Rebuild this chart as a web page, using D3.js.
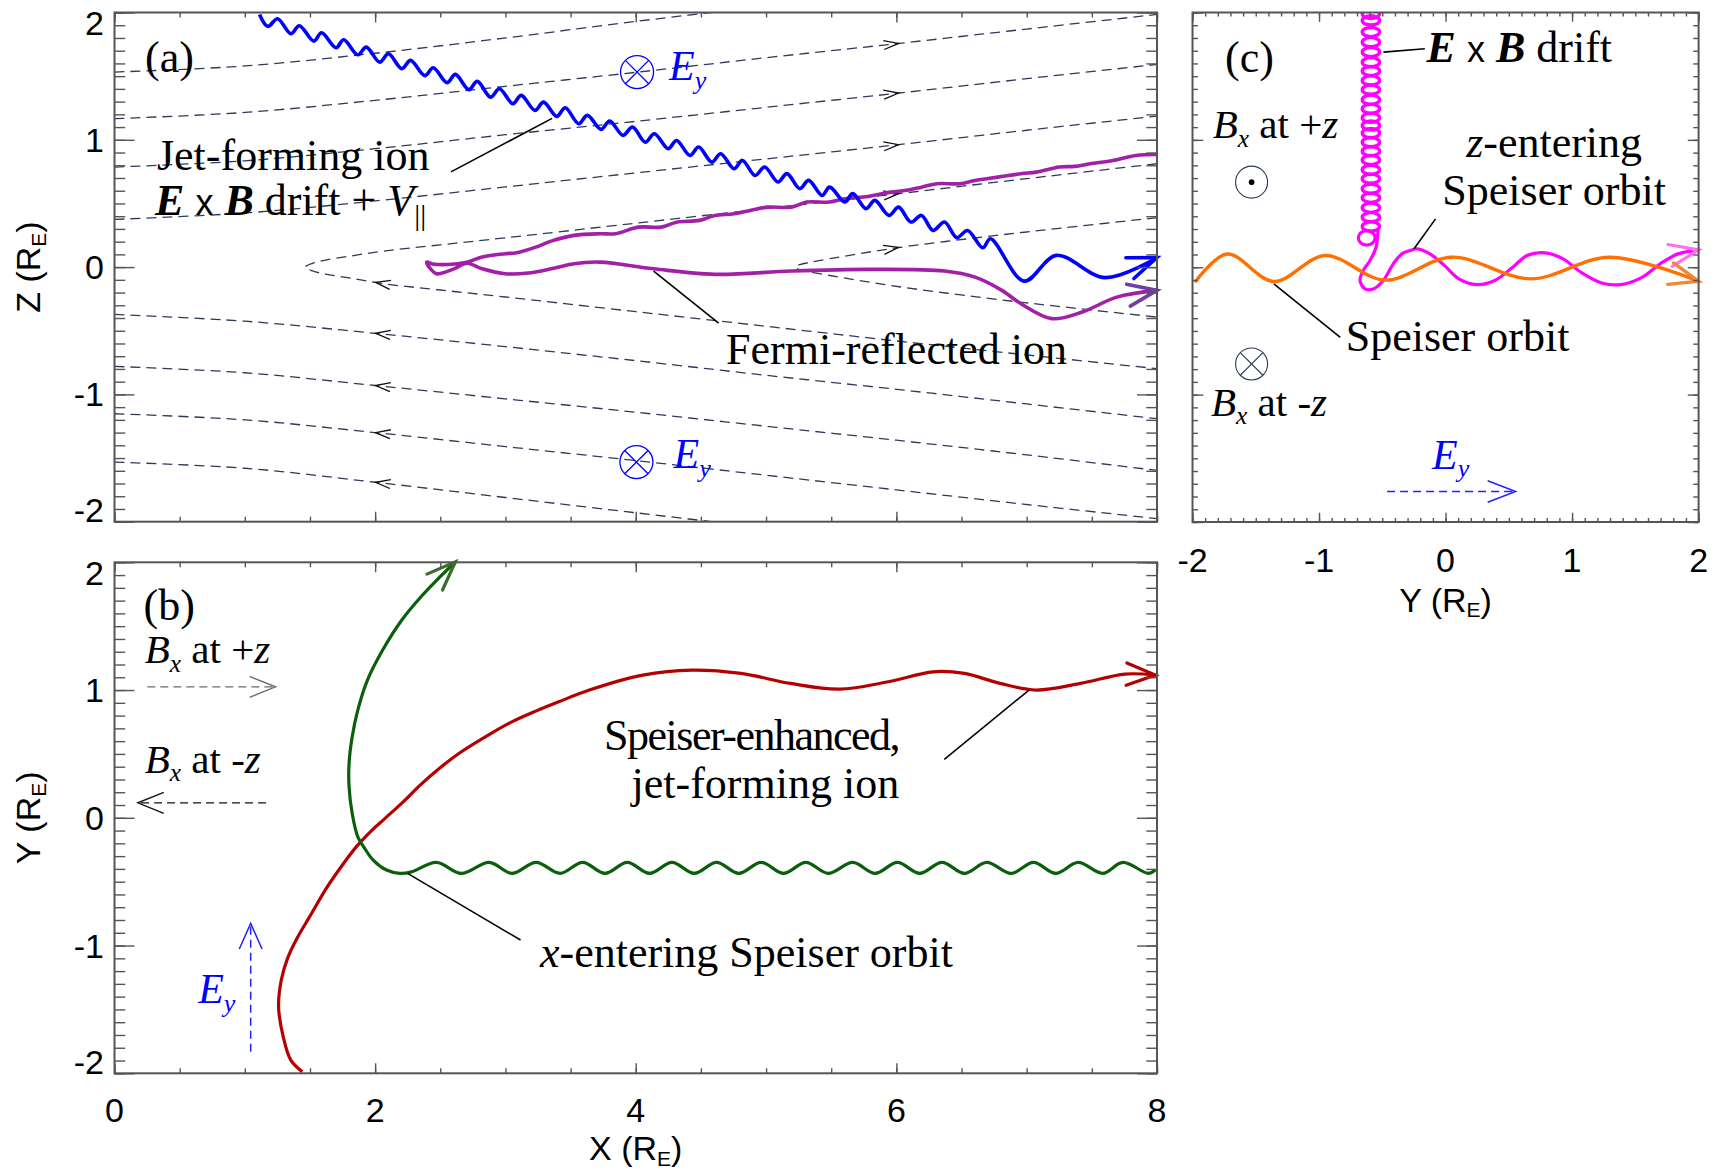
<!DOCTYPE html>
<html>
<head>
<meta charset="utf-8">
<title>Ion orbits in the magnetotail current sheet</title>
<script src="https://cdn.jsdelivr.net/npm/d3@7"></script>
<style>
  html,body{margin:0;padding:0;background:#fff;}
  svg{display:block;}
  text{white-space:pre;}
</style>
</head>
<body>
<svg id="fig" width="1713" height="1172" xmlns="http://www.w3.org/2000/svg"></svg>
<script>
// ---------------- axis ticks ----------------
const xTicksMajor = [0, 2, 4, 6, 8];
const xTicksMinor = [0,0.5,1,1.5,2,2.5,3,3.5,4,4.5,5,5.5,6,6.5,7,7.5,8];
const zTicksMajor = [-2, -1, 0, 1, 2];
const tenthTicks = d3.range(-20, 21).map(k => k / 10);

// ---------------- panel (a): X-Z plane ----------------
// jet-forming ion: E x B drift + parallel motion (gyration turning points)
const blueJet = [
  [1.113,1.985],[1.177,1.891],[1.251,1.951],[1.354,1.833],[1.418,1.896],[1.530,1.775],[1.589,1.841],
  [1.700,1.723],[1.759,1.786],[1.867,1.668],[1.932,1.728],[2.035,1.610],[2.102,1.676],[2.205,1.559],
  [2.272,1.624],[2.381,1.504],[2.446,1.566],[2.552,1.449],[2.616,1.514],[2.719,1.394],[2.784,1.459],
  [2.886,1.335],[2.954,1.401],[3.057,1.284],[3.121,1.349],[3.227,1.231],[3.292,1.296],[3.394,1.184],
  [3.459,1.252],[3.562,1.126],[3.629,1.192],[3.733,1.082],[3.800,1.147],[3.902,1.035],[3.975,1.100],
  [4.073,0.982],[4.143,1.048],[4.249,0.930],[4.313,0.995],[4.416,0.877],[4.483,0.943],[4.583,0.825],
  [4.652,0.891],[4.754,0.773],[4.819,0.838],[4.916,0.720],[4.989,0.786],[5.092,0.668],[5.160,0.734],
  [5.259,0.616],[5.327,0.681],[5.430,0.563],[5.488,0.628],[5.605,0.511],[5.665,0.577],[5.767,0.459],
  [5.835,0.524],[5.943,0.406],[6.017,0.471],[6.111,0.354],[6.193,0.406],[6.281,0.288],[6.369,0.354],
  [6.464,0.231],[6.546,0.288],[6.663,0.152],[6.722,0.223],[6.980,-0.110],[7.227,0.092],[7.603,-0.083],
  [7.999,0.074]
];
// Fermi-reflected ion: inbound along the upper field line, reflected near X~2.4
const magentaFermi = [
  [8.000,0.885],[7.838,0.877],[7.661,0.838],[7.486,0.812],[7.368,0.791],[7.250,0.786],[7.074,0.746],
  [6.957,0.734],[6.780,0.707],[6.604,0.681],[6.487,0.655],[6.311,0.655],[6.193,0.628],[6.076,0.603],
  [5.959,0.589],[5.782,0.555],[5.605,0.537],[5.488,0.511],[5.312,0.511],[5.195,0.471],[5.018,0.471],
  [4.901,0.451],[4.754,0.419],[4.607,0.406],[4.490,0.367],[4.313,0.353],[4.196,0.314],[4.020,0.314],
  [3.843,0.262],[3.726,0.262],[3.526,0.249],[3.351,0.204],[3.233,0.157],[3.086,0.113],[2.998,0.105],
  [2.822,0.079],[2.704,0.039],[2.560,0.020],[2.440,0.025],[2.396,0.039],
  [2.430,-0.020],[2.470,-0.052],[2.520,-0.045],[2.613,-0.010],[2.705,0.030],[2.822,-0.013],
  [2.998,-0.052],[3.174,-0.047],[3.351,-0.013],[3.526,0.027],[3.726,0.039],[4.137,-0.013],
  [4.607,-0.057],[5.195,-0.031],[5.782,-0.018],[6.369,-0.031],[6.604,-0.079],[6.810,-0.183],
  [6.957,-0.288],[7.192,-0.405],[7.427,-0.353],[7.691,-0.236],[8.000,-0.183]
];
// magnetic field lines (upper half: Bx toward +X, lower half: toward -X)
const fieldA  = [[0,1.532],[1,1.58],[2,1.68],[3,1.80],[4,1.93],[5,2.05]];
const fieldB  = [[0,1.166],[1,1.215],[2,1.31],[3,1.42],[4,1.53],[5,1.645],[6,1.755],[7,1.87],[8,1.985]];
const fieldC  = [[0,0.786],[1,0.835],[2,0.93],[3,1.04],[4,1.145],[5,1.255],[6,1.365],[7,1.48],[8,1.592]];
const fieldD  = [[0,0.375],[1,0.425],[2,0.52],[3,0.63],[4,0.74],[5,0.85],[6,0.96],[7,1.075],[8,1.186]];
const fieldE  = [[1.464,0],[1.52,0.03],[1.62,0.055],[1.8,0.085],[2.06,0.125],[2.5,0.175],[3,0.23],[4,0.345],[5,0.46],[6,0.575],[7,0.695],[8,0.812]];
const fieldF  = [[5.224,0],[5.26,0.02],[5.32,0.034],[5.49,0.066],[5.96,0.145],[6.66,0.236],[7.3,0.31],[8,0.388]];
const fieldA2 = [[0,-1.532],[1,-1.58],[2,-1.69],[3,-1.81],[4,-1.93],[5,-2.05]];
const fieldB2 = [[0,-1.152],[1,-1.2],[2,-1.30],[3,-1.41],[4,-1.52],[5,-1.635],[6,-1.75],[7,-1.865],[8,-1.976]];
const fieldC2 = [[0,-0.780],[1,-0.83],[2,-0.93],[3,-1.035],[4,-1.14],[5,-1.25],[6,-1.36],[7,-1.475],[8,-1.597]];
const fieldD2 = [[0,-0.372],[1,-0.425],[2,-0.52],[3,-0.625],[4,-0.735],[5,-0.85],[6,-0.96],[7,-1.075],[8,-1.191]];
const fieldE2 = [[1.464,0],[1.52,-0.03],[1.62,-0.055],[1.8,-0.085],[2.06,-0.13],[2.5,-0.18],[3,-0.235],[4,-0.35],[5,-0.465],[6,-0.58],[7,-0.69],[8,-0.798]];
const fieldF2 = [[5.224,0],[5.26,-0.02],[5.32,-0.035],[5.49,-0.066],[5.96,-0.145],[6.66,-0.24],[7.3,-0.315],[8,-0.393]];
const fieldArrowXUpper = 5.96;   // direction chevrons on the upper lines
const fieldArrowXLower = 2.06;   // direction chevrons on the lower lines

// ---------------- panel (b): X-Y plane ----------------
const redSpeiser = [
  [1.441,-1.988],[1.353,-1.897],[1.295,-1.714],[1.259,-1.479],[1.280,-1.270],[1.330,-1.095],[1.405,-0.935],
  [1.500,-0.770],[1.630,-0.545],[1.745,-0.375],[1.860,-0.222],[1.975,-0.098],[2.070,-0.010],[2.205,0.115],
  [2.352,0.262],[2.499,0.392],[2.645,0.505],[2.881,0.655],[3.057,0.755],[3.233,0.835],[3.409,0.908],
  [3.644,1.000],[4.054,1.117],[4.432,1.156],[4.808,1.130],[5.186,1.052],[5.562,1.007],[5.939,1.065],
  [6.282,1.143],[6.522,1.130],[6.796,1.052],[7.070,1.000],[7.412,1.052],[7.755,1.125],[7.988,1.117]
];
const greenSpeiser = [
  [7.988,-0.409],[7.933,-0.435],[7.738,-0.349],[7.583,-0.435],[7.395,-0.349],[7.223,-0.435],[7.052,-0.349],
  [6.881,-0.435],[6.693,-0.349],[6.522,-0.435],[6.350,-0.349],[6.179,-0.435],[6.008,-0.349],[5.837,-0.435],
  [5.665,-0.349],[5.477,-0.435],[5.305,-0.349],[5.134,-0.435],[4.962,-0.349],[4.791,-0.435],[4.620,-0.349],
  [4.449,-0.435],[4.278,-0.349],[4.106,-0.435],[3.935,-0.349],[3.764,-0.435],[3.592,-0.349],[3.420,-0.435],
  [3.235,-0.349],[3.051,-0.435],[2.875,-0.349],[2.661,-0.435],[2.470,-0.349],[2.279,-0.423],[2.190,-0.435],
  [2.087,-0.409],[1.985,-0.331],[1.912,-0.227],[1.867,-0.149],[1.824,0.034],[1.800,0.243],[1.800,0.426],
  [1.824,0.634],[1.867,0.843],[1.941,1.078],[2.058,1.313],[2.205,1.548],[2.352,1.730],[2.499,1.887],
  [2.616,2.004]
];

// ---------------- panel (c): Y-Z plane ----------------
const orangeSpeiser = [
  [-1.981,-0.118],[-1.726,0.104],[-1.357,-0.112],[-0.953,0.092],[-0.478,-0.101],
  [0.048,0.079],[0.673,-0.091],[1.297,0.079],[2.000,-0.110]
];
const gyroLoopY = -0.590;              // Y of the E x B drifting gyro-loops
const gyroLoopZ = [1.99,1.938,1.846,1.767,1.689,1.610,1.540,1.467,1.394,1.315,1.244,1.174,1.113,
                   1.053,0.982,0.911,0.842,0.765,0.695,0.616,0.545,0.467,0.393,0.320];
const gyroLastLoop = [-0.623, 0.231];
const magentaZEntering = [
  [-0.534,0.304],[-0.549,0.157],[-0.597,0.053],[-0.650,-0.026],[-0.676,-0.104],[-0.636,-0.170],
  [-0.571,-0.170],[-0.492,-0.104],[-0.413,0.027],[-0.346,0.105],[-0.281,0.131],[-0.221,0.145],
  [-0.123,0.105],[-0.008,0.013],[0.105,-0.091],[0.247,-0.136],[0.389,-0.104],[0.531,0.000],
  [0.644,0.092],[0.787,0.113],[0.929,0.066],[1.070,-0.039],[1.241,-0.126],[1.383,-0.136],
  [1.553,-0.079],[1.696,0.027],[1.837,0.105],[2.000,0.137]
];

// ================= drawing =================
const serif = "'Liberation Serif','Times New Roman',Times,serif";
const sans  = "'Liberation Sans',Arial,Helvetica,sans-serif";
const frameCol = "#555555";
const fieldCol = "#2d3b58";
const C = {
  blue: "#0000ff", magA: "#a21fa8", purpleHead: "#7040a0",
  red: "#b40000", green: "#0b5e0b", greenHead: "#3d6b2d",
  mag: "#ff00ff", magHead: "#ff6ff0", orange: "#ff7000", orangeHead: "#f0883c"
};
const fmtTick = v => v < 0 ? "-" + Math.abs(v) : String(v);

const svg = d3.select("#fig");
svg.append("rect").attr("width", 1713).attr("height", 1172).attr("fill", "#fff");

const xA = d3.scaleLinear([0, 8], [114.5, 1157]);
const zA = d3.scaleLinear([-2, 2], [521.7, 12.5]);
const xB = d3.scaleLinear([0, 8], [114.5, 1157]);
const yB = d3.scaleLinear([-2, 2], [1073.3, 562.3]);
const yC = d3.scaleLinear([-2, 2], [1192.5, 1698.6]);
const zC = d3.scaleLinear([-2, 2], [522, 12.5]);

const defs = svg.append("defs");
function clipFor(id, xs, ys) {
  const [x0, x1] = xs.range(), [y0, y1] = ys.range();
  defs.append("clipPath").attr("id", id).append("rect")
    .attr("x", x0).attr("y", y1).attr("width", x1 - x0).attr("height", y0 - y1);
  return `url(#${id})`;
}

function curveLine(xs, ys) {
  return d3.line().x(d => xs(d[0])).y(d => ys(d[1])).curve(d3.curveCatmullRom.alpha(0.5));
}

function arrowHead(g, xs, ys, pts, color, width, len = 31, half = 21) {
  const a = pts[pts.length - 2], b = pts[pts.length - 1];
  const tx = xs(b[0]), ty = ys(b[1]);
  const ang = Math.atan2(ty - ys(a[1]), tx - xs(a[0]));
  const h = half * Math.PI / 180;
  const p1 = [tx - len * Math.cos(ang - h), ty - len * Math.sin(ang - h)];
  const p2 = [tx - len * Math.cos(ang + h), ty - len * Math.sin(ang + h)];
  g.append("path").attr("d", `M${p1}L${tx},${ty}L${p2}`)
    .attr("fill", "none").attr("stroke", color).attr("stroke-width", width)
    .attr("stroke-linecap", "round").attr("stroke-linejoin", "miter");
}

function straightArrow(g, p0, p1, color, dash, len = 28, half = 22, width = 1.4) {
  g.append("line").attr("x1", p0[0]).attr("y1", p0[1]).attr("x2", p1[0]).attr("y2", p1[1])
    .attr("stroke", color).attr("stroke-width", width).attr("stroke-dasharray", dash);
  const ang = Math.atan2(p1[1] - p0[1], p1[0] - p0[0]), h = half * Math.PI / 180;
  const q1 = [p1[0] - len * Math.cos(ang - h), p1[1] - len * Math.sin(ang - h)];
  const q2 = [p1[0] - len * Math.cos(ang + h), p1[1] - len * Math.sin(ang + h)];
  g.append("path").attr("d", `M${q1}L${p1}L${q2}`).attr("fill", "none")
    .attr("stroke", color).attr("stroke-width", width);
}

function rich(g, x, y, parts, o = {}) {
  const size = o.size || 44;
  const t = g.append("text").attr("x", x).attr("y", y)
    .attr("font-family", serif).attr("font-size", size)
    .attr("fill", o.color || "#000").attr("text-anchor", o.anchor || "start");
  if (o.spacing) t.attr("letter-spacing", o.spacing);
  let cur = 0;
  for (const p of parts) {
    const s = t.append("tspan").text(p.t);
    if (p.i) s.attr("font-style", "italic");
    if (p.b) s.attr("font-weight", "bold");
    if (p.sans) s.attr("font-family", sans).attr("font-size", p.fs || size * 0.8);
    if (p.sub) s.attr("font-size", p.fs || size * 0.62);
    else if (p.fs) s.attr("font-size", p.fs);
    const want = p.sub ? (p.shift ?? size * 0.2) : 0;
    if (want !== cur) { s.attr("dy", want - cur); cur = want; }
  }
  return t;
}

function leader(g, p0, p1) {
  g.append("line").attr("x1", p0[0]).attr("y1", p0[1]).attr("x2", p1[0]).attr("y2", p1[1])
    .attr("stroke", "#000").attr("stroke-width", 1.6);
}

function circledCross(g, cx, cy, r, color, w) {
  g.append("circle").attr("cx", cx).attr("cy", cy).attr("r", r)
    .attr("fill", "none").attr("stroke", color).attr("stroke-width", w);
  const d = r * Math.SQRT1_2;
  g.append("path").attr("d", `M${cx - d},${cy - d}L${cx + d},${cy + d}M${cx - d},${cy + d}L${cx + d},${cy - d}`)
    .attr("stroke", color).attr("stroke-width", w);
}
function circledDot(g, cx, cy, r, color, w) {
  g.append("circle").attr("cx", cx).attr("cy", cy).attr("r", r)
    .attr("fill", "none").attr("stroke", color).attr("stroke-width", w);
  g.append("circle").attr("cx", cx).attr("cy", cy).attr("r", 2.8).attr("fill", "#000");
}

function panelAxes(g, xs, ys, o) {
  const [xl, xr] = xs.range();
  const [yb, yt] = ys.range();
  const tick = (axis, scale, vals, len, tx, ty) => {
    const a = g.append("g").attr("transform", `translate(${tx},${ty})`)
      .call(axis(scale).tickValues(vals).tickSize(-len).tickFormat(() => ""));
    a.select(".domain").remove();
    a.selectAll("text").remove();
    a.selectAll(".tick line").attr("stroke", frameCol).attr("stroke-width", 1.4);
  };
  tick(d3.axisBottom, xs, o.xMinor, o.xMinorLen, 0, yb);
  tick(d3.axisBottom, xs, o.xMajor, o.xMajorLen, 0, yb);
  tick(d3.axisTop, xs, o.xMinor, o.xMinorLen, 0, yt);
  tick(d3.axisTop, xs, o.xMajor, o.xMajorLen, 0, yt);
  tick(d3.axisLeft, ys, o.yMinor, o.yMinorLen, xl, 0);
  tick(d3.axisLeft, ys, o.yMajor, o.yMajorLen, xl, 0);
  tick(d3.axisRight, ys, o.yMinor, o.yMinorLen, xr, 0);
  tick(d3.axisRight, ys, o.yMajor, o.yMajorLen, xr, 0);
  g.append("rect").attr("x", xl).attr("y", yt).attr("width", xr - xl).attr("height", yb - yt)
    .attr("fill", "none").attr("stroke", frameCol).attr("stroke-width", 2);
  if (o.xLabels) {
    o.xMajor.forEach(v => g.append("text").attr("x", xs(v)).attr("y", yb + o.xLabelDy)
      .attr("text-anchor", "middle").attr("font-family", sans).attr("font-size", 34)
      .attr("fill", "#000").text(fmtTick(v)));
  }
  if (o.yLabels) {
    const lo = d3.min(o.yMajor), hi = d3.max(o.yMajor);
    o.yMajor.forEach(v => {
      const dy = v === hi ? 22.5 : v === lo ? 0.5 : 12;
      g.append("text").attr("x", xl - 10.5).attr("y", ys(v) + dy)
        .attr("text-anchor", "end").attr("font-family", sans).attr("font-size", 34)
        .attr("fill", "#000").text(fmtTick(v));
    });
  }
}

function axisTitle(g, x, y, main, rotate) {
  const t = g.append("text").attr("font-family", sans).attr("font-size", 34).attr("fill", "#000")
    .attr("text-anchor", "middle")
    .attr("transform", `translate(${x},${y})` + (rotate ? " rotate(-90)" : ""));
  t.append("tspan").text(main + " (R");
  t.append("tspan").text("E").attr("font-size", 21).attr("dy", 5.5);
  t.append("tspan").text(")").attr("dy", -5.5);
}

// ---------- panel (a) ----------
const gA = svg.append("g");
const clipA = clipFor("clipA", xA, zA);
const fieldG = gA.append("g").attr("clip-path", clipA);
const fieldLine = d3.line().x(d => xA(d[0])).y(d => zA(d[1])).curve(d3.curveCatmullRom.alpha(0.5));
const fieldPaths = [fieldA, fieldB, fieldC, fieldD, fieldA2, fieldB2, fieldC2, fieldD2,
  fieldE.slice().reverse().concat(fieldE2.slice(1)),
  fieldF.slice().reverse().concat(fieldF2.slice(1))];
fieldPaths.forEach(p => fieldG.append("path").attr("d", fieldLine(p)).attr("fill", "none")
  .attr("stroke", fieldCol).attr("stroke-width", 1.3).attr("stroke-dasharray", "10,6"));

function chevron(g, pts, X, dir) {
  for (let i = 0; i < pts.length - 1; i++) {
    const a = pts[i], b = pts[i + 1];
    if ((a[0] - X) * (b[0] - X) <= 0 && a[0] !== b[0]) {
      const t = (X - a[0]) / (b[0] - a[0]);
      const px = xA(X), py = zA(a[1] + t * (b[1] - a[1]));
      let ang = Math.atan2(zA(b[1]) - zA(a[1]), xA(b[0]) - xA(a[0]));
      if (dir < 0) ang += Math.PI;
      const L = 15, hw = 4.5, c = Math.cos(ang), s = Math.sin(ang);
      const tip = [px + c * L / 2, py + s * L / 2];
      const bk = [px - c * L / 2, py - s * L / 2];
      const p1 = [bk[0] - s * hw, bk[1] + c * hw], p2 = [bk[0] + s * hw, bk[1] - c * hw];
      g.append("path").attr("d", `M${p1}L${tip}L${p2}`).attr("fill", "none")
        .attr("stroke", "#111").attr("stroke-width", 1.3);
      return;
    }
  }
}
[fieldB, fieldC, fieldD, fieldE, fieldF].forEach(p => chevron(fieldG, p, fieldArrowXUpper, +1));
[fieldA2, fieldB2, fieldC2, fieldD2, fieldE2].forEach(p => chevron(fieldG, p, fieldArrowXLower, -1));

// electric field into the page
circledCross(gA, xA(4.01), zA(1.532), 16.5, C.blue, 1.3);
circledCross(gA, xA(4.005), zA(-1.532), 16.5, C.blue, 1.3);
rich(gA, xA(4.255), zA(1.467), [{t: "E", i: true}, {t: "y", i: true, sub: true}], {color: C.blue, size: 42});
rich(gA, xA(4.29), zA(-1.581), [{t: "E", i: true}, {t: "y", i: true, sub: true}], {color: C.blue, size: 42});

const trajA = gA.append("g").attr("clip-path", clipA);
const lineA = curveLine(xA, zA);
trajA.append("path").attr("d", lineA(magentaFermi)).attr("fill", "none")
  .attr("stroke", C.magA).attr("stroke-width", 3.6).attr("stroke-linejoin", "round");
trajA.append("path").attr("d", lineA(blueJet)).attr("fill", "none")
  .attr("stroke", C.blue).attr("stroke-width", 3.6).attr("stroke-linejoin", "round");
arrowHead(gA, xA, zA, blueJet, C.blue, 3.6);
arrowHead(gA, xA, zA, magentaFermi, C.purpleHead, 3.6);

rich(gA, xA(0.234), zA(1.53), [{t: "(a)"}]);
rich(gA, xA(0.326), zA(0.760), [{t: "Jet-forming ion"}]);
rich(gA, xA(0.311), zA(0.406), [
  {t: "E", b: true, i: true}, {t: " "}, {t: "x", sans: true, fs: 36}, {t: " "},
  {t: "B", b: true, i: true}, {t: " drift + "}, {t: "V", i: true},
  {t: "||", sub: true, fs: 30, shift: 10}
]);
leader(gA, [xA(2.582), zA(0.748)], [xA(3.358), zA(1.168)]);
rich(gA, xA(4.693), zA(-0.764), [{t: "Fermi-reflected ion"}]);
leader(gA, [xA(4.137), zA(-0.031)], [xA(4.636), zA(-0.440)]);

panelAxes(gA, xA, zA, {
  xMajor: xTicksMajor, xMinor: xTicksMinor, xMinorLen: 5, xMajorLen: 10,
  yMajor: zTicksMajor, yMinor: tenthTicks, yMinorLen: 10.7, yMajorLen: 20,
  xLabels: false, yLabels: true
});
axisTitle(gA, 40, zA(0), "Z", true);

// ---------- panel (b) ----------
const gB = svg.append("g");
const clipB = clipFor("clipB", xB, yB);
const trajB = gB.append("g").attr("clip-path", clipB);
const lineB = curveLine(xB, yB);
trajB.append("path").attr("d", lineB(redSpeiser)).attr("fill", "none")
  .attr("stroke", C.red).attr("stroke-width", 3.2).attr("stroke-linejoin", "round");
trajB.append("path").attr("d", lineB(greenSpeiser)).attr("fill", "none")
  .attr("stroke", C.green).attr("stroke-width", 3.2).attr("stroke-linejoin", "round");
arrowHead(gB, xB, yB, redSpeiser, C.red, 3.2);
arrowHead(gB, xB, yB, greenSpeiser, C.greenHead, 3.2);

rich(gB, xB(0.223), yB(1.548), [{t: "(b)"}]);
rich(gB, xB(0.232), yB(1.209), [{t: "B", i: true}, {t: "x", i: true, sub: true}, {t: " at +"}, {t: "z", i: true}], {size: 41});
straightArrow(gB, [xB(0.252), yB(1.025)], [xB(1.236), yB(1.025)], "#6a6a6a", "8,5", 28, 22, 1.4);
rich(gB, xB(0.232), yB(0.352), [{t: "B", i: true}, {t: "x", i: true, sub: true}, {t: " at -"}, {t: "z", i: true}], {size: 41});
straightArrow(gB, [xB(1.163), yB(0.117)], [xB(0.179), yB(0.117)], "#111", "8,5", 28, 22, 1.4);
straightArrow(gB, [xB(1.045), yB(-1.832)], [xB(1.045), yB(-0.827)], "#2222ff", "8,5", 28, 24, 1.5);
rich(gB, xB(0.642), yB(-1.453), [{t: "E", i: true}, {t: "y", i: true, sub: true}], {color: C.blue, size: 42});
rich(gB, xB(3.757), yB(0.530), [{t: "Speiser-enhanced,"}], {spacing: -1.5});
rich(gB, xB(3.968), yB(0.152), [{t: "jet-forming ion"}]);
leader(gB, [xB(7.018), yB(1.0)], [xB(6.368), yB(0.457)]);
rich(gB, xB(3.265), yB(-1.166), [{t: "x", i: true}, {t: "-entering Speiser orbit"}]);
leader(gB, [xB(2.249), yB(-0.435)], [xB(3.116), yB(-0.957)]);

panelAxes(gB, xB, yB, {
  xMajor: xTicksMajor, xMinor: xTicksMinor, xMinorLen: 5, xMajorLen: 10,
  yMajor: zTicksMajor, yMinor: tenthTicks, yMinorLen: 10.7, yMajorLen: 20,
  xLabels: true, xLabelDy: 48.2, yLabels: true
});
axisTitle(gB, 40, yB(0), "Y", true);
axisTitle(gB, xB(4), 1160, "X", false);

// ---------- panel (c) ----------
const gC = svg.append("g");
const clipC = clipFor("clipC", yC, zC);
const trajC = gC.append("g").attr("clip-path", clipC);
const lineC = curveLine(yC, zC);
// gyro-loops of the E x B drifting ion
trajC.selectAll("ellipse.loop").data(gyroLoopZ).join("ellipse").attr("class", "loop")
  .attr("cx", yC(gyroLoopY)).attr("cy", d => zC(d)).attr("rx", 8.6).attr("ry", 4.6)
  .attr("fill", "none").attr("stroke", C.mag).attr("stroke-width", 3.4);
trajC.append("ellipse").attr("cx", yC(gyroLastLoop[0])).attr("cy", zC(gyroLastLoop[1]))
  .attr("rx", 8.4).attr("ry", 7.2).attr("fill", "none").attr("stroke", C.mag).attr("stroke-width", 3.2);
trajC.append("path").attr("d", lineC(magentaZEntering)).attr("fill", "none")
  .attr("stroke", C.mag).attr("stroke-width", 3.2).attr("stroke-linejoin", "round");
trajC.append("path").attr("d", lineC(orangeSpeiser)).attr("fill", "none")
  .attr("stroke", C.orange).attr("stroke-width", 3.4).attr("stroke-linejoin", "round");
arrowHead(gC, yC, zC, magentaZEntering, C.magHead, 3.2);
arrowHead(gC, yC, zC, orangeSpeiser, C.orangeHead, 3.4);

rich(gC, yC(-1.743), zC(1.530), [{t: "(c)"}]);
rich(gC, yC(-0.150), zC(1.608), [
  {t: "E", b: true, i: true}, {t: " "}, {t: "x", sans: true, fs: 36}, {t: " "},
  {t: "B", b: true, i: true}, {t: " drift"}
]);
leader(gC, [yC(-0.491), zC(1.689)], [yC(-0.164), zC(1.716)]);
rich(gC, yC(-1.840), zC(1.011), [{t: "B", i: true}, {t: "x", i: true, sub: true}, {t: " at +"}, {t: "z", i: true}], {size: 41});
circledDot(gC, yC(-1.533), zC(0.668), 16, fieldCol, 1.1);
rich(gC, yC(0.858), zC(0.862), [{t: "z", i: true}, {t: "-entering"}], {anchor: "middle"});
rich(gC, yC(0.858), zC(0.485), [{t: "Speiser orbit"}], {anchor: "middle"});
leader(gC, [yC(-0.079), zC(0.380)], [yC(-0.249), zC(0.145)]);
rich(gC, yC(-0.789), zC(-0.654), [{t: "Speiser orbit"}]);
leader(gC, [yC(-1.357), zC(-0.130)], [yC(-0.832), zC(-0.550)]);
circledCross(gC, yC(-1.533), zC(-0.759), 16, fieldCol, 1.1);
rich(gC, yC(-1.854), zC(-1.165), [{t: "B", i: true}, {t: "x", i: true, sub: true}, {t: " at -"}, {t: "z", i: true}], {size: 41});
rich(gC, yC(-0.107), zC(-1.584), [{t: "E", i: true}, {t: "y", i: true, sub: true}], {color: C.blue, size: 42});
straightArrow(gC, [yC(-0.462), zC(-1.760)], [yC(0.554), zC(-1.760)], "#2222ff", "8,5", 30, 21, 1.5);

panelAxes(gC, yC, zC, {
  xMajor: zTicksMajor, xMinor: tenthTicks, xMinorLen: 4, xMajorLen: 9.3,
  yMajor: zTicksMajor, yMinor: tenthTicks, yMinorLen: 5.4, yMajorLen: 10.8,
  xLabels: true, xLabelDy: 50, yLabels: false
});
axisTitle(gC, yC(0), 611.7, "Y", false);
</script>
</body>
</html>
